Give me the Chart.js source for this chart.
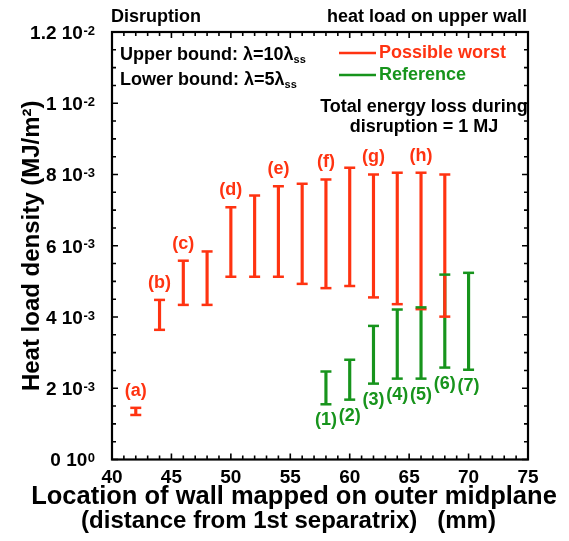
<!DOCTYPE html>
<html>
<head>
<meta charset="utf-8">
<title>Heat load on upper wall</title>
<script src="https://cdn.jsdelivr.net/npm/chart.js@4.4.1/dist/chart.umd.min.js"></script>
<style>
  html, body { margin: 0; padding: 0; background: #fff; }
  canvas { display: block; }
</style>
</head>
<body>
<canvas id="heatChart" width="569" height="541"></canvas>
<script>
// heat load density in units of 1e-3 MJ/m^2, location in mm
const worstX    = [42, 44, 46, 48, 50, 52, 54, 56, 58, 60, 62, 64, 66, 68];
const worstLow  = [1.25, 3.64, 4.34, 4.34, 5.13, 5.13, 5.13, 4.93, 4.81, 4.87, 4.55, 4.36, 4.22, 4.01];
const worstHigh = [1.45, 4.48, 5.58, 5.84, 7.08, 7.41, 7.67, 7.74, 7.86, 8.19, 8.00, 8.05, 8.05, 8.00];
const worstTags = ['(a)', '(b)', '(c)', '', '(d)', '', '(e)', '', '(f)', '', '(g)', '', '(h)', ''];

const refX    = [58, 60, 62, 64, 66, 68, 70];
const refLow  = [1.55, 1.68, 2.13, 2.27, 2.27, 2.58, 2.52];
const refHigh = [2.47, 2.80, 3.75, 4.21, 4.27, 5.19, 5.24];
const refTags = ['(1)', '(2)', '(3)', '(4)', '(5)', '(6)', '(7)'];

const yTicks    = [0, 2, 4, 6, 8, 10, 12];
const yTickMant = ['0', '2', '4', '6', '8', '1', '1.2'];
const yTickExp  = ['0', '-3', '-3', '-3', '-3', '-2', '-2'];

const xTitle = ['Location of wall mapped on outer midplane', '(distance from 1st separatrix)   (mm)'];

const RED = '#ff3311';
const GREEN = '#17941c';
const FONT = "'Liberation Sans', Arial, Helvetica, sans-serif";

function toPoints(xs, lo, hi) {
  return xs.map((x, i) => ({ x: x, y: [lo[i], hi[i]] }));
}

// caps on both ends of each floating bar, plus the (a)/(1) tags
const errorCaps = {
  id: 'errorCaps',
  afterDatasetsDraw(chart) {
    const ctx = chart.ctx;
    ctx.save();
    chart.data.datasets.forEach((ds, di) => {
      const meta = chart.getDatasetMeta(di);
      ctx.strokeStyle = ds.backgroundColor;
      ctx.lineWidth = 2.5;
      meta.data.forEach(el => {
        [el.y, el.base].forEach(py => {
          ctx.beginPath();
          ctx.moveTo(el.x - 5.5, py);
          ctx.lineTo(el.x + 5.5, py);
          ctx.stroke();
        });
      });
      ctx.fillStyle = ds.backgroundColor;
      ctx.font = 'bold 18px ' + FONT;
      ctx.textAlign = 'center';
      ctx.textBaseline = 'middle';
      meta.data.forEach((el, i) => {
        const tag = ds.tags[i];
        if (!tag) return;
        const top = Math.min(el.y, el.base);
        const bot = Math.max(el.y, el.base);
        if (ds.tagSide === 'above') ctx.fillText(tag, el.x, top - 17);
        else ctx.fillText(tag, el.x, bot + 16);
      });
    });
    ctx.restore();
  }
};

// box frame with inward major/minor ticks on all four sides, y tick labels, notes
const frame = {
  id: 'frame',
  afterDraw(chart) {
    const ctx = chart.ctx;
    const { left, right, top, bottom } = chart.chartArea;
    const xs = chart.scales.x, ys = chart.scales.y;
    ctx.save();
    ctx.strokeStyle = '#000';
    ctx.lineWidth = 2.2;
    ctx.strokeRect(left, top, right - left, bottom - top);

    ctx.lineWidth = 1.6;
    ctx.beginPath();
    for (let v = xs.min; v <= xs.max; v += 1) {
      const px = xs.getPixelForValue(v);
      const len = v % 5 === 0 ? 6 : 4;
      ctx.moveTo(px, bottom); ctx.lineTo(px, bottom - len);
      ctx.moveTo(px, top); ctx.lineTo(px, top + len);
    }
    for (let v = ys.min; v <= ys.max; v += 0.5) {
      const py = ys.getPixelForValue(v);
      const len = v % 2 === 0 ? 6 : 4;
      ctx.moveTo(left, py); ctx.lineTo(left + len, py);
      ctx.moveTo(right, py); ctx.lineTo(right - len, py);
    }
    ctx.stroke();

    // y tick labels like "8 10^-3"
    ctx.fillStyle = '#000';
    ctx.textBaseline = 'alphabetic';
    yTicks.forEach((v, i) => {
      const py = ys.getPixelForValue(v);
      ctx.font = 'bold 13px ' + FONT;
      const supW = ctx.measureText(yTickExp[i]).width;
      ctx.textAlign = 'left';
      ctx.fillText(yTickExp[i], 95 - supW, py + 2.5);
      ctx.font = 'bold 19px ' + FONT;
      ctx.textAlign = 'right';
      ctx.fillText(yTickMant[i] + ' 10', 95 - supW - 0.5, py + 6.8);
    });

    // x axis title, wider than the plot so drawn here
    ctx.textBaseline = 'middle';
    ctx.textAlign = 'center';
    ctx.font = 'bold 25.5px ' + FONT;
    ctx.fillText(xTitle[0], 294, 497);
    ctx.font = 'bold 24px ' + FONT;
    ctx.fillText(xTitle[1], 288.5, 521);

    // headings
    ctx.font = 'bold 18px ' + FONT;
    ctx.textAlign = 'left';
    ctx.fillText('Disruption', 111, 17);
    ctx.textAlign = 'right';
    ctx.fillText('heat load on upper wall', 527, 17);

    // bound notes with lambda_ss subscript
    const lambdaNote = (text, y) => {
      ctx.font = 'bold 18px ' + FONT;
      ctx.textAlign = 'left';
      ctx.fillText(text, 120, y);
      const w = ctx.measureText(text).width;
      ctx.font = 'bold 11px ' + FONT;
      ctx.fillText('ss', 120 + w, y + 5);
    };
    lambdaNote('Upper bound: \u03bb=10\u03bb', 55);
    lambdaNote('Lower bound: \u03bb=5\u03bb', 80);

    ctx.font = 'bold 18px ' + FONT;
    ctx.textAlign = 'center';
    ctx.fillText('Total energy loss during', 424, 107);
    ctx.fillText('disruption = 1 MJ', 424, 127);

    // legend
    chart.data.datasets.forEach((ds, i) => {
      const y = 53 + i * 22;
      ctx.strokeStyle = ds.backgroundColor;
      ctx.lineWidth = 2.5;
      ctx.beginPath();
      ctx.moveTo(339, y); ctx.lineTo(376, y);
      ctx.stroke();
      ctx.fillStyle = ds.backgroundColor;
      ctx.font = 'bold 18px ' + FONT;
      ctx.textAlign = 'left';
      ctx.fillText(ds.label, 379, y);
    });
    ctx.restore();
  }
};

const ctx = document.getElementById('heatChart').getContext('2d');
new Chart(ctx, {
  type: 'bar',
  data: {
    datasets: [
      {
        label: 'Possible worst',
        data: toPoints(worstX, worstLow, worstHigh),
        tags: worstTags, tagSide: 'above',
        backgroundColor: RED, borderWidth: 0,
        barThickness: 2.5, grouped: false
      },
      {
        label: 'Reference',
        data: toPoints(refX, refLow, refHigh),
        tags: refTags, tagSide: 'below',
        backgroundColor: GREEN, borderWidth: 0,
        barThickness: 2.5, grouped: false
      }
    ]
  },
  options: {
    responsive: false,
    animation: false,
    layout: { padding: { top: 32, right: 41, bottom: 45.5, left: 0 } },
    plugins: { legend: { display: false }, tooltip: { enabled: false } },
    scales: {
      x: {
        type: 'linear', min: 40, max: 75, offset: false,
        grid: { display: false, drawTicks: false },
        border: { display: false },
        ticks: {
          stepSize: 5, autoSkip: false, maxRotation: 0, padding: 8.5, color: '#000',
          font: { family: FONT, size: 19, weight: 'bold', lineHeight: 1 }
        }
      },
      y: {
        min: 0, max: 12,
        grid: { display: false, drawTicks: false },
        border: { display: false },
        ticks: { display: false },
        title: {
          display: true, color: '#000',
          text: 'Heat load density (MJ/m\u00b2)',
          font: { family: FONT, size: 24, weight: 'bold', lineHeight: 1.2 },
          padding: { top: 17.6, bottom: 65.6 }
        }
      }
    }
  },
  plugins: [errorCaps, frame]
});
</script>
</body>
</html>
